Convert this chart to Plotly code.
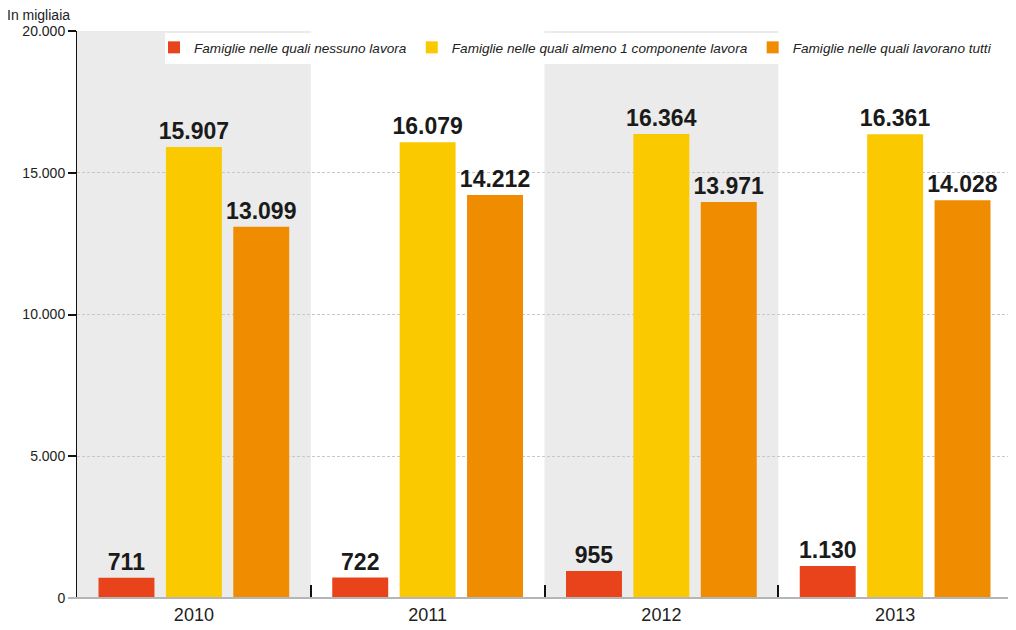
import plotly.graph_objects as go

years = ["2010", "2011", "2012", "2013"]
series_names = [
    "Famiglie nelle quali nessuno lavora",
    "Famiglie nelle quali almeno 1 componente lavora",
    "Famiglie nelle quali lavorano tutti",
]
nessuno = [711, 722, 955, 1130]
almeno_uno = [15907, 16079, 16364, 16361]
tutti = [13099, 14212, 13971, 14028]
colors = ["#E8431A", "#FBC900", "#F08C00"]
y_ticks = [0, 5000, 10000, 15000, 20000]

FONT = "Liberation Sans, Arial, Helvetica, sans-serif"

# page has an 8px body margin: figure drawn at offset (8, 8)
OFF = 8
W, H = 1016 - OFF, 630 - OFF
PL, PR, PT, PB = 77 - OFF, 1012 - OFF, 31 - OFF, 598 - OFF  # plot box in figure px
PW, PH = PR - PL, PB - PT


def px(x):
    return (x - OFF - PL) / PW


def py(y):
    return (PB - (y - OFF)) / PH


fig = go.Figure()
for name, vals, col in zip(series_names, [nessuno, almeno_uno, tutti], colors):
    fig.add_trace(go.Bar(
        x=years, y=vals, name=name,
        marker=dict(color=col, line=dict(width=0)),
        texttemplate="%{y:,}", textposition="outside", cliponaxis=False,
        constraintext="none",
        textfont=dict(family=FONT, size=23, color="#1a1a1a", weight="bold"),
        hoverinfo="skip",
    ))

shapes = []
for i in (0, 2):
    shapes.append(dict(type="rect", xref="x", yref="paper", x0=i - 0.5, x1=i + 0.5,
                       y0=0, y1=1, fillcolor="#EBEBEB", line=dict(width=0), layer="below"))
shapes.append(dict(type="rect", xref="paper", yref="paper",
                   x0=px(165), x1=px(1010), y0=py(64), y1=py(33),
                   fillcolor="white", line=dict(width=0), layer="below"))
shapes.append(dict(type="line", xref="paper", yref="paper", x0=px(68), x1=1,
                   y0=0, y1=0, line=dict(color="#b5b5b5", width=2)))

fig.update_layout(
    width=W, height=H,
    margin=dict(l=PL, r=W - PR, t=PT, b=H - PB),
    paper_bgcolor="white", plot_bgcolor="white",
    separators=",.",
    barmode="group", bargap=0.135, bargroupgap=0.17,
    font=dict(family=FONT, color="#222"),
    showlegend=True,
    legend=dict(orientation="h", x=px(154), xanchor="left",
                y=py(32), yanchor="top",
                bgcolor="rgba(0,0,0,0)",
                font=dict(family=FONT, size=13.6, style="italic", color="#222"),
                traceorder="normal", itemwidth=30),
    shapes=shapes,
    annotations=[dict(text="In migliaia", xref="paper", yref="paper", x=px(5), y=py(25),
                      xanchor="left", yanchor="bottom", showarrow=False,
                      font=dict(family=FONT, size=14, color="#222"))],
    xaxis=dict(type="category", range=[-0.5, 3.5], showgrid=False, zeroline=False,
               tickson="boundaries", ticks="inside", ticklen=13, tickwidth=2, tickcolor="#111",
               ticklabelstandoff=4,
               showline=False, tickfont=dict(family=FONT, size=18, color="#222")),
    yaxis=dict(range=[0, 20000], tickvals=y_ticks, tickformat=",d",
               showgrid=True, gridcolor="#c8c8c8", griddash="3px,2px", gridwidth=1,
               zeroline=False, showline=True, linecolor="#111", linewidth=1,
               ticks="outside", ticklen=8, tickwidth=2, tickcolor="#111",
               tickfont=dict(family=FONT, size=14, color="#222")),
)

fig.write_html("out.html")
